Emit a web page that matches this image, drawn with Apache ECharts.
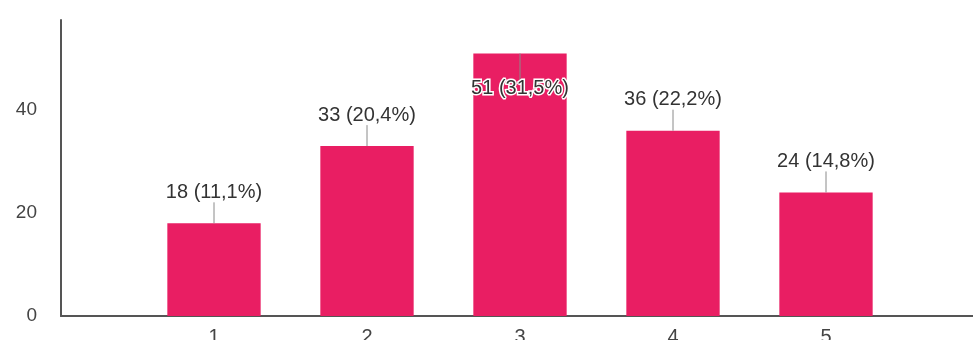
<!DOCTYPE html>
<html>
<head>
<meta charset="utf-8">
<script src="https://cdn.jsdelivr.net/npm/echarts@6/dist/echarts.min.js"></script>
<style>
  html, body { margin: 0; padding: 0; background: #fff; }
  #chart { width: 973px; height: 340px; }
</style>
</head>
<body>
<div id="chart"></div>
<script>
// Response counts for the 1–5 rating scale
const categories = ['1', '2', '3', '4', '5'];
const counts = [18, 33, 51, 36, 24];
const yTicks = [0, 20, 40];

const total = counts.reduce((a, b) => a + b, 0);
const labelFor = (v) => v + ' (' + (v / total * 100).toFixed(1).replace('.', ',') + '%)';

const BAR = '#e91e63';
const FONT = '"Liberation Sans", Arial, sans-serif';

const chart = echarts.init(document.getElementById('chart'), null, { renderer: 'canvas' });

chart.setOption({
  animation: false,
  backgroundColor: '#ffffff',
  grid: { left: 61, right: -6, top: 20, bottom: 24, containLabel: false, outerBoundsMode: 'none' },
  xAxis: {
    type: 'value',
    min: 0,
    max: 6,
    interval: 1,
    splitLine: { show: false },
    axisTick: { show: false },
    axisLine: { show: true, lineStyle: { color: '#555', width: 2 } },
    axisLabel: {
      margin: 11,
      color: '#444',
      fontSize: 20,
      fontFamily: FONT,
      formatter: (v) => categories[v - 1] || ''
    }
  },
  yAxis: {
    type: 'value',
    min: 0,
    max: 57.5,
    interval: 20,
    splitLine: { show: false },
    axisTick: { show: false },
    axisLine: { show: true, lineStyle: { color: '#555', width: 2 } },
    axisLabel: {
      margin: 24,
      color: '#444',
      fontSize: 19,
      fontFamily: FONT,
      showMaxLabel: false,
      formatter: (v) => (yTicks.indexOf(v) >= 0 ? String(v) : '')
    }
  },
  series: [{
    type: 'custom',
    data: counts.map((v, i) => [i + 1, v]),
    renderItem: function (params, api) {
      const x = api.value(0);
      const v = api.value(1);
      const top = api.coord([x, v]);
      const base = api.coord([x, 0]);
      const w = api.size([1, 0])[0] * 0.61;
      const cs = params.coordSys;
      // labels flip inside the bar when there is no room above it
      const inside = top[1] - 42 < cs.y;
      const lineEnd = inside ? top[1] + 28 : top[1] - 21;
      const textY = inside ? top[1] + 35 : top[1] - 31;
      return {
        type: 'group',
        children: [
          {
            type: 'rect',
            shape: { x: top[0] - w / 2, y: top[1], width: w, height: base[1] - top[1] },
            style: { fill: BAR }
          },
          {
            type: 'line',
            shape: { x1: top[0], y1: top[1], x2: top[0], y2: lineEnd },
            style: { stroke: '#8a8a8a', lineWidth: 1 }
          },
          {
            type: 'text',
            x: top[0],
            y: textY,
            style: {
              text: labelFor(v),
              fill: '#333',
              font: '20px ' + FONT,
              align: 'center',
              verticalAlign: 'middle',
              textAlign: 'center',
              textVerticalAlign: 'middle',
              stroke: inside ? '#ffffff' : null,
              lineWidth: inside ? 3 : 0,
              strokeFirst: true
            }
          }
        ]
      };
    }
  }]
});
</script>
</body>
</html>
